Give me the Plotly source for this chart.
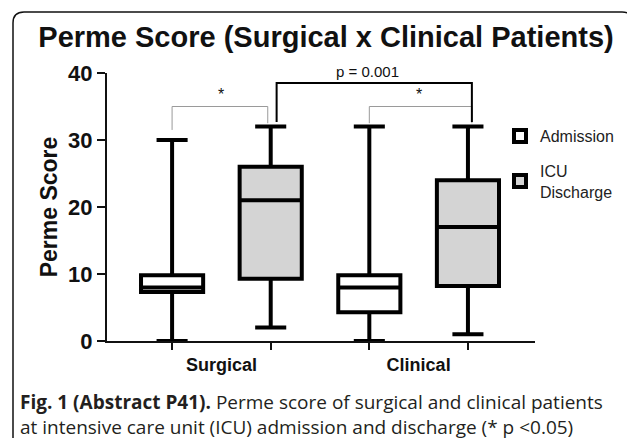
import plotly.graph_objects as go

# values (Perme score)
categories = ["Surgical", "Clinical"]
groups = ["Admission", "ICU<br>Discharge"]
fills = ["#ffffff", "#d4d4d4"]

adm_low = [0, 0]
adm_q1 = [7.3, 4.3]
adm_med = [8, 8]
adm_q3 = [9.8, 9.8]
adm_high = [30, 32]

icu_low = [2, 1]
icu_q1 = [9.3, 8.2]
icu_med = [21, 17]
icu_q3 = [26, 24]
icu_high = [32, 32]

# page body adds an 8px margin, so the figure is drawn 8px in from the corner
OFF = 8
W, H = 635 - OFF, 440 - OFF
L, T = 107 - OFF, 73 - OFF
R, B = W - (535 - OFF), H - (341 - OFF)
PW, PH = W - L - R, H - T - B

FONT = "Liberation Sans, Arial, Helvetica, sans-serif"
CAP_FONT = "Open Sans, Noto Sans, sans-serif"

xs = list(range(len(categories)))
stats = [
    (adm_low, adm_q1, adm_med, adm_q3, adm_high),
    (icu_low, icu_q1, icu_med, icu_q3, icu_high),
]

fig = go.Figure()
for i, (name, fill, (lo, q1, md, q3, hi)) in enumerate(zip(groups, fills, stats)):
    fig.add_trace(go.Box(
        x=xs, lowerfence=lo, q1=q1, median=md, q3=q3, upperfence=hi,
        name=name, legendgroup=f"g{i}", fillcolor=fill,
        line=dict(color="#000000", width=4),
        whiskerwidth=0.5, boxpoints=False, hoverinfo="skip",
    ))

# box centres within each category (boxgap=0, two groups)
off = 0.25
box_x = [i + s for i in xs for s in (-off, off)]


def px2paper(px, py):
    # screenshot pixel -> paper coords
    return (px - OFF - L) / PW, (H - B - (py - OFF)) / PH


# significance brackets
gray = "#9a9a9a"
brackets = [
    # (x_left, x_right, y_top, y_left_end, y_right_end, colour, width)
    (box_x[0], box_x[1] - 0.015, 35, 31.5, 32.5, gray, 1),
    (box_x[2], box_x[3] + 0.02, 35, 32.5, 32.5, gray, 1),
    (box_x[1] + 0.03, box_x[3] + 0.02, 38.5, 32.7, 32.7, "#000000", 2),
]
for x0, x1, yt, yl, yr, col, lw in brackets:
    fig.add_shape(type="path", xref="x", yref="y",
                  path=f"M{x0},{yl} L{x0},{yt} L{x1},{yt} L{x1},{yr}",
                  line=dict(color=col, width=lw))

for x0, x1 in [(box_x[0], box_x[1]), (box_x[2], box_x[3])]:
    fig.add_annotation(x=(x0 + x1) / 2, y=35.2, text="*", showarrow=False,
                       yanchor="bottom", font=dict(family=FONT, size=16, color="#111"))
fig.add_annotation(x=0.74, y=38.6, text="p = 0.001", showarrow=False,
                   yanchor="bottom", font=dict(family=FONT, size=15, color="#111"))

# rounded outer frame
fx0, fy0 = px2paper(13, 438)
fx1, fy1 = px2paper(633, 12)
rx, ry = 11 / PW, 11 / PH
frame = (f"M{fx0},{fy0} L{fx0},{fy1 - ry} Q{fx0},{fy1} {fx0 + rx},{fy1} "
         f"L{fx1 - rx},{fy1} Q{fx1},{fy1} {fx1},{fy1 - ry} L{fx1},{fy0}")
fig.add_shape(type="path", xref="paper", yref="paper", path=frame,
              line=dict(color="#111", width=1.5))

# caption
cx, cy = px2paper(18, 414.5)
fig.add_annotation(xref="paper", yref="paper", x=cx, y=cy, xanchor="left", yanchor="middle",
                   showarrow=False, align="left",
                   text=("<b>Fig. 1 (Abstract P41).</b> Perme score of surgical and clinical patients"
                         "<br>at intensive care unit (ICU) admission and discharge (* p <0.05)"),
                   font=dict(family=CAP_FONT, size=19, color="#231f20"))

lx, ly = px2paper(500, 119)
fig.update_layout(
    width=W, height=H,
    margin=dict(l=L, r=R, t=T, b=B),
    paper_bgcolor="white", plot_bgcolor="white",
    boxmode="group", boxgap=0, boxgroupgap=0.37,
    title=dict(text="<b>Perme Score (Surgical x Clinical Patients)</b>",
               x=(326 - OFF) / W, xanchor="center", y=1 - (37 - OFF) / H, yanchor="middle",
               font=dict(family=FONT, size=29, color="#111")),
    legend=dict(x=lx, y=ly, xanchor="left", yanchor="top",
                font=dict(family=FONT, size=16, color="#222"),
                bgcolor="rgba(0,0,0,0)", tracegroupgap=11),
    showlegend=True,
)
fig.update_xaxes(
    range=[-0.58, 1.59], tickvals=xs, ticktext=categories, ticks="",
    ticklabelstandoff=6,
    minor=dict(tickvals=box_x, ticks="outside", ticklen=7, tickwidth=2, tickcolor="#111"),
    showline=True, linecolor="#111", linewidth=2, showgrid=False, zeroline=False,
    tickfont=dict(family=FONT, size=18, color="#111", weight="bold"),
)
fig.update_yaxes(
    range=[0, 40], tickvals=[0, 10, 20, 30, 40], ticks="outside", ticklen=8,
    tickwidth=2, tickcolor="#111",
    showline=True, linecolor="#111", linewidth=2, showgrid=False, zeroline=False,
    tickfont=dict(family=FONT, size=22, color="#111", weight="bold"),
    title=dict(text="<b>Perme Score</b>", standoff=4,
               font=dict(family=FONT, size=23, color="#111")),
)

fig.write_html("out.html")
